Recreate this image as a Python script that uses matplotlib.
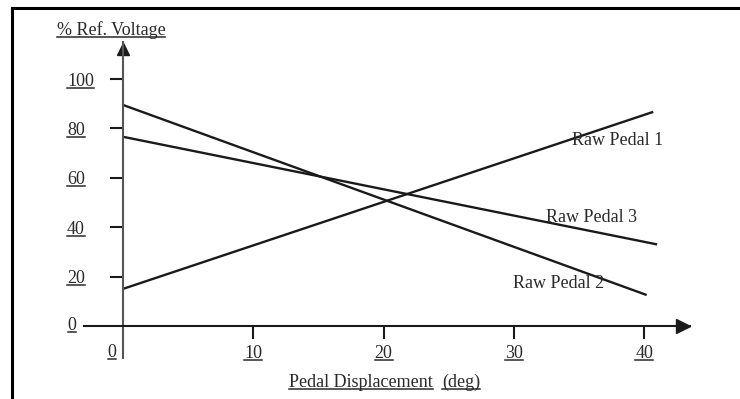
import matplotlib
matplotlib.use("Agg")
import matplotlib.pyplot as plt
from matplotlib.lines import Line2D

plt.rcParams['font.family'] = ['Liberation Serif', 'DejaVu Serif']

# data
pedal1_x = [0, 40.7]
pedal1_y = [15, 86.7]
pedal2_x = [0, 40.2]
pedal2_y = [89.5, 12.5]
pedal3_x = [0, 41.0]
pedal3_y = [76.6, 33.0]

series_names = ['Raw Pedal 1', 'Raw Pedal 2', 'Raw Pedal 3']
label_pos = [(34.5, 75), (29.9, 17.3), (32.5, 44)]

yticks = [20, 40, 60, 80, 100]
xticks = [10, 20, 30, 40]

INK = '#1a1a1a'
TXT = '#2a2a2a'
FS = 13

W, H = 740, 399
fig = plt.figure(figsize=(7.4, 3.99), dpi=100)
ax = fig.add_axes([0.1135, 0.1028, 0.8185, 0.7919])
ax.set_xlim(-3, 43.5)
ax.set_ylim(-13, 115)

for xs, ys in [(pedal1_x, pedal1_y), (pedal2_x, pedal2_y), (pedal3_x, pedal3_y)]:
    ax.plot(xs, ys, color=INK, lw=1.7, solid_capstyle='butt')

for name, (tx, ty) in zip(series_names, label_pos):
    ax.text(tx, ty, name, fontsize=FS, color=TXT, va='center', ha='left')

# axes as arrows through the origin
for s in ['top', 'right']:
    ax.spines[s].set_visible(False)
ax.spines['left'].set_position(('data', 0))
ax.spines['bottom'].set_position(('data', 0))
ax.spines['left'].set_color('#555555')
ax.spines['bottom'].set_color(INK)
ax.spines['left'].set_linewidth(1.5)
ax.spines['bottom'].set_linewidth(1.5)
ax.plot([43.0], [0], marker='>', color=INK, markersize=10, clip_on=False)
ax.plot([0], [112.3], marker='^', color=INK, markersize=9, clip_on=False)

ax.set_yticks(yticks)
ax.tick_params(axis='y', direction='out', length=9.4, width=1.5, color=INK,
               labelsize=FS, labelcolor=TXT, pad=31)
for lab in ax.get_yticklabels():
    lab.set_horizontalalignment('left')

ax.set_xticks(xticks)
ax.tick_params(axis='x', direction='out', length=9.4, width=1.5, color=INK,
               labelsize=FS, labelcolor=TXT, pad=4)

underlined = []
# zero labels sit off the crossing
underlined.append(ax.annotate('0', xy=(0, 0), xytext=(-40, 0), textcoords='offset points',
                              fontsize=FS, color=TXT, ha='left', va='center'))
underlined.append(ax.annotate('0', xy=(0, 0), xytext=(-8, -19), textcoords='offset points',
                              fontsize=FS, color=TXT, ha='center', va='center'))

underlined.append(ax.text(-5.1, 119.8, '% Ref. Voltage', fontsize=FS, color=TXT,
                          ha='left', va='center', clip_on=False))
underlined.append(ax.text(23.8, -23, 'Pedal Displacement', fontsize=FS, color=TXT,
                          ha='right', va='center', clip_on=False))
underlined.append(ax.text(24.5, -23, '(deg)', fontsize=FS, color=TXT,
                          ha='left', va='center', clip_on=False))

# page frame (top and left edges)
fig.add_artist(Line2D([12 / W, 1], [1 - 8 / H, 1 - 8 / H], color='black', lw=2.2,
                      transform=fig.transFigure))
fig.add_artist(Line2D([12 / W, 12 / W], [0, 1 - 8 / H], color='black', lw=2.2,
                      transform=fig.transFigure))

# underline every label, as in the scanned figure
fig.canvas.draw()
underlined += list(ax.get_xticklabels()) + list(ax.get_yticklabels())
for t in underlined:
    bb = t.get_window_extent()
    y = bb.y0 + 2
    fig.add_artist(Line2D([bb.x0 / W, bb.x1 / W], [y / H, y / H], color=TXT, lw=1.1,
                          transform=fig.transFigure))

fig.savefig('out.png', dpi=100)
